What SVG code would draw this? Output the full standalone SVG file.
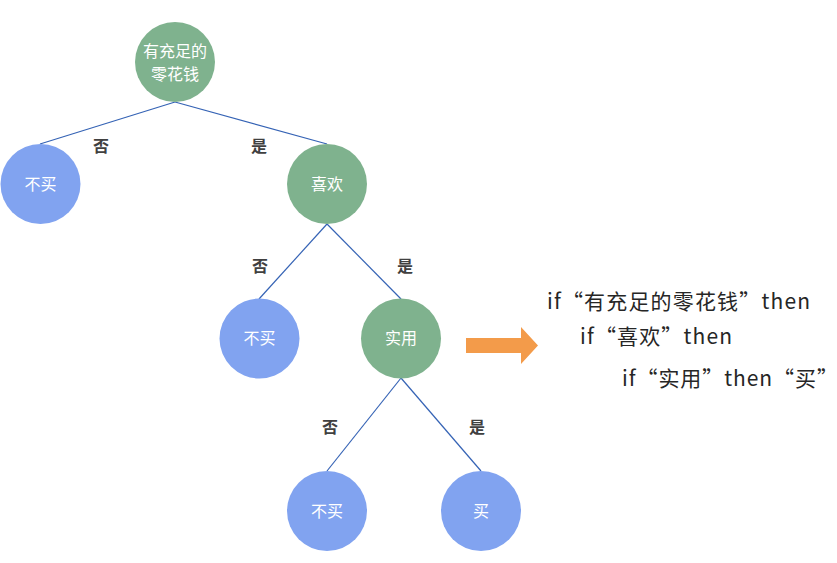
<svg xmlns="http://www.w3.org/2000/svg" width="837" height="563" viewBox="0 0 837 563">
<style>
.g{fill:#7FB28E}
.b{fill:#81A3F0}
.nt{font-family:"Noto Sans CJK SC","Microsoft YaHei",sans-serif;font-size:16px;fill:#FFFFFF;text-anchor:middle}
.el{font-family:"Noto Sans CJK SC",sans-serif;font-size:16px;font-weight:bold;fill:#404040;text-anchor:middle}
.e{stroke:#3563B5;stroke-width:1.2;fill:none}
.rt{font-family:"Noto Sans CJK SC",sans-serif;font-size:21px;fill:#262626}
</style>
<rect width="837" height="563" fill="#FFFFFF"/>
<g id="connectors">
<line class="e" x1="175" y1="102" x2="40" y2="144"/>
<line class="e" x1="175" y1="102" x2="327" y2="144"/>
<line class="e" x1="327" y1="224" x2="259" y2="299"/>
<line class="e" x1="327" y1="224" x2="401" y2="299"/>
<line class="e" x1="401" y1="378" x2="327" y2="471"/>
<line class="e" x1="401" y1="378" x2="481" y2="471"/>
<text class="el" x="101" y="152">否</text>
<text class="el" x="259" y="152">是</text>
<text class="el" x="260" y="272">否</text>
<text class="el" x="405" y="272">是</text>
<text class="el" x="330" y="433">否</text>
<text class="el" x="477" y="433">是</text>
</g>
<g id="n_money"><circle class="g" cx="175" cy="62" r="40"/><text class="nt" x="175" y="57">有充足的</text><text class="nt" x="175" y="80">零花钱</text></g>
<g id="n_nobuy1"><circle class="b" cx="40.5" cy="184" r="40"/><text class="nt" x="40.5" y="190">不买</text></g>
<g id="n_like"><circle class="g" cx="327" cy="184" r="40"/><text class="nt" x="327" y="190">喜欢</text></g>
<g id="n_nobuy2"><circle class="b" cx="259.5" cy="338.5" r="40"/><text class="nt" x="259.5" y="344">不买</text></g>
<g id="n_useful"><circle class="g" cx="401" cy="338.5" r="40"/><text class="nt" x="401" y="344">实用</text></g>
<g id="n_nobuy3"><circle class="b" cx="327" cy="511" r="40"/><text class="nt" x="327" y="517">不买</text></g>
<g id="n_buy"><circle class="b" cx="481" cy="511" r="40"/><text class="nt" x="481" y="517">买</text></g>
<g id="arrow"><polygon fill="#F39B4A" points="466,338 521,338 521,327 538,345.5 521,364 521,353 466,353"/></g>
<g id="rules">
<text class="rt" x="547" y="309" textLength="263" lengthAdjust="spacing">if“有充足的零花钱”then</text>
<text class="rt" x="580" y="344" textLength="152" lengthAdjust="spacing">if“喜欢”then</text>
<text class="rt" x="622" y="386" textLength="216" lengthAdjust="spacing">if“实用”then“买”</text>
</g>
</svg>
